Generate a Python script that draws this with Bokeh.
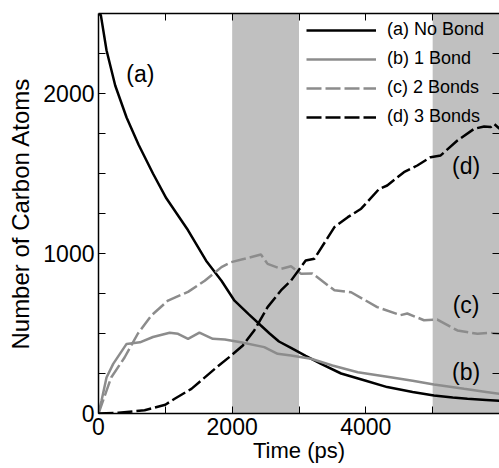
from bokeh.plotting import figure
from bokeh.models import LinearAxis, FixedTicker, Range1d, Legend, LegendItem, ColumnDataSource
from bokeh.core.properties import value
from bokeh.embed import file_html
from bokeh.resources import INLINE

# ---- data ----
t_a = [0, 35, 120, 250, 420, 600, 815, 1015, 1340, 1610, 1840, 2035, 2250, 2430, 2560, 2700, 2880, 3100, 3330, 3630, 4000, 4320, 4700, 5020, 5300, 5520, 5800, 6000]
n_a = [2500, 2490, 2270, 2050, 1850, 1680, 1500, 1345, 1145, 955, 830, 705, 620, 550, 500, 450, 410, 360, 310, 250, 205, 165, 135, 113, 100, 92, 85, 80]

t_b = [0, 45, 120, 220, 420, 620, 815, 1065, 1190, 1340, 1510, 1710, 1890, 2130, 2480, 2680, 2880, 3180, 3500, 3880, 4370, 4700, 5020, 5470, 5800, 6000]
n_b = [0, 80, 225, 310, 435, 445, 478, 505, 498, 467, 505, 467, 463, 445, 415, 373, 362, 342, 300, 258, 227, 205, 181, 154, 135, 123]

t_c = [0, 190, 390, 590, 790, 1040, 1340, 1590, 1840, 1985, 2185, 2430, 2530, 2730, 2880, 3030, 3200, 3530, 3780, 4170, 4520, 4620, 4870, 5070, 5370, 5670, 5850, 6000]
n_c = [0, 225, 350, 500, 612, 706, 760, 830, 915, 946, 967, 994, 935, 904, 920, 873, 875, 770, 758, 665, 615, 625, 583, 587, 519, 498, 505, 498]

t_d = [0, 300, 690, 1000, 1140, 1390, 1740, 1985, 2160, 2330, 2530, 2730, 2880, 3100, 3230, 3530, 3730, 3930, 4200, 4320, 4570, 4770, 4970, 5120, 5370, 5620, 5770, 5870, 5920, 6000]
n_d = [0, 5, 20, 55, 92, 154, 279, 362, 425, 519, 665, 769, 830, 956, 967, 1165, 1227, 1280, 1404, 1425, 1508, 1550, 1602, 1613, 1706, 1779, 1794, 1790, 1810, 1780]

series_labels = ["(a) No Bond", "(b) 1 Bond", "(c) 2 Bonds", "(d) 3 Bonds"]

band_start = [2000, 5000]
band_end = [3000, 6000]

note_text = ["(a)", "(b)", "(c)", "(d)"]
note_x = [627, 5500, 5500, 5500]
note_y = [2119, 259, 681, 1544]

x_min, x_max = 0, 6000
y_min, y_max = 0, 2500
x_major = [0, 2000, 4000]
x_minor = [1000, 3000, 5000]
top_ticks = [1000, 2000, 3000, 4000, 5000]
y_major = [0, 1000, 2000]
y_minor = [250, 500, 750, 1250, 1500, 1750, 2250]

FONT = "Liberation Sans"
GRAY = "#8c8c8c"

p = figure(width=499, height=468, x_range=Range1d(x_min, x_max), y_range=Range1d(y_min, y_max),
           output_backend="svg", toolbar_location=None,
           min_border_left=98, min_border_right=0, min_border_top=13, min_border_bottom=55)
p.outline_line_color = None
p.xgrid.visible = False
p.ygrid.visible = False
p.background_fill_color = "white"
p.border_fill_color = "white"

# shaded bands
bands = ColumnDataSource(dict(left=band_start, right=band_end,
                              bottom=[y_min] * len(band_start), top=[y_max] * len(band_start)))
p.quad(left="left", right="right", bottom="bottom", top="top", source=bands,
       fill_color="#c0c0c0", line_color=None, level="underlay")

ra = p.line(t_a, n_a, line_color="black", line_width=2.5)
rb = p.line(t_b, n_b, line_color=GRAY, line_width=2.5)
rc = p.line(t_c, n_c, line_color=GRAY, line_width=2.5, line_dash="15 4")
rd = p.line(t_d, n_d, line_color="black", line_width=2.5, line_dash="15 4")

p.text(x=note_x, y=note_y, text=note_text, text_align="center", text_baseline="middle",
       text_font=value(FONT), text_font_size="23px", text_color="black")

def style_axis(ax):
    ax.axis_line_color = "black"
    ax.axis_line_width = 1.5
    ax.major_tick_line_color = "black"
    ax.minor_tick_line_color = "black"
    ax.major_tick_line_width = 1
    ax.minor_tick_line_width = 1
    ax.major_tick_in = 7
    ax.major_tick_out = 0
    ax.minor_tick_in = 7
    ax.minor_tick_out = 0
    ax.major_label_text_font = FONT
    ax.major_label_text_color = "black"
    ax.major_label_text_font_size = "23px"
    ax.axis_label_text_color = "black"

# bottom axis
xa = p.xaxis[0]
xa.ticker = FixedTicker(ticks=x_major, minor_ticks=x_minor)
style_axis(xa)
xa.major_label_standoff = 4
xa.axis_label = "Time (ps)"
xa.axis_label_text_font = FONT
xa.axis_label_text_font_size = "22px"
xa.axis_label_text_font_style = "normal"
xa.axis_label_standoff = 0

# left axis
ya = p.yaxis[0]
ya.ticker = FixedTicker(ticks=y_major, minor_ticks=y_minor)
style_axis(ya)
ya.major_label_standoff = 4
ya.axis_label = "Number of Carbon Atoms"
ya.axis_label_text_font = FONT
ya.axis_label_text_font_size = "24px"
ya.axis_label_text_font_style = "normal"
ya.axis_label_standoff = 6

# top axis (ticks only, drawn as unlabeled minor ticks)
top = LinearAxis(ticker=FixedTicker(ticks=[], minor_ticks=top_ticks))
style_axis(top)
p.add_layout(top, "above")

# right axis (ticks only, no line)
right = LinearAxis(ticker=FixedTicker(ticks=[], minor_ticks=y_minor + y_major))
style_axis(right)
right.axis_line_color = None
p.add_layout(right, "right")

legend = Legend(items=[LegendItem(label=series_labels[0], renderers=[ra]),
                       LegendItem(label=series_labels[1], renderers=[rb]),
                       LegendItem(label=series_labels[2], renderers=[rc]),
                       LegendItem(label=series_labels[3], renderers=[rd])],
                location=(203, 281))
legend.background_fill_alpha = 0
legend.border_line_alpha = 0
legend.label_text_font = FONT
legend.label_text_font_size = "18px"
legend.label_text_color = "black"
legend.glyph_width = 70
legend.glyph_height = 20
legend.label_height = 20
legend.label_standoff = 11
legend.spacing = 8
legend.padding = 5
legend.margin = 0
p.add_layout(legend)

open("out.html", "w").write(file_html(p, INLINE))
